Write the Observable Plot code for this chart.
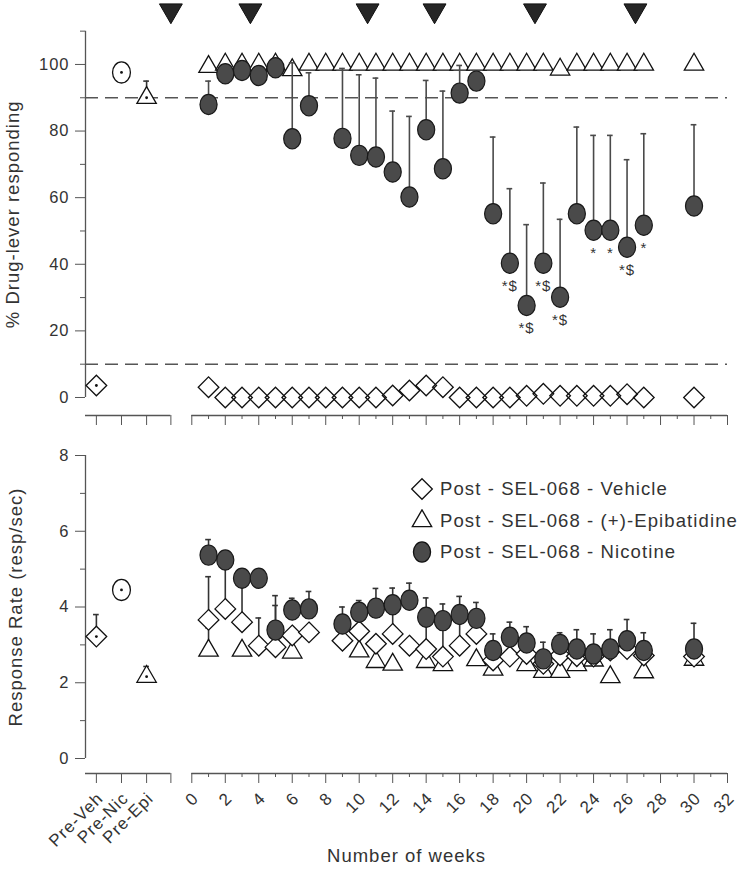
<!DOCTYPE html>
<html>
<head>
<meta charset="utf-8">
<script src="https://cdn.jsdelivr.net/npm/d3@7"></script>
<script src="https://cdn.jsdelivr.net/npm/@observablehq/plot@0.6"></script>
<style>
  html, body { margin: 0; padding: 0; background: #fff; }
  body { width: 737px; height: 869px; overflow: hidden; position: relative; font-family: "Liberation Sans", Arial, sans-serif; }
  #chart svg { display: block; }
  #chart svg text { letter-spacing: 1px; }
  .legend-row { position: absolute; display: flex; align-items: center; white-space: nowrap; font-size: 18.5px; letter-spacing: 1.1px; color: #333; height: 24px; }
  .legend-row svg { display: block; margin-right: 6px; }
</style>
</head>
<body>
<div id="chart"></div>
<div id="legend"></div>
<script>
// ---------------- DATA ----------------
// Baseline (pre-treatment) categories
const preLabels = ["Pre-Veh", "Pre-Nic", "Pre-Epi"];
const preDrug = [3.6, 97.6, 90];
const preDrugUpper = [null, null, 95];
const preRate = [3.22, 4.45, 2.16];
const preRateUpper = [3.8, null, 2.43];

// Week-by-week data, top panel (% drug-lever responding)
const weeksFull = [1,2,3,4,5,6,7,8,9,10,11,12,13,14,15,16,17,18,19,20,21,22,23,24,25,26,27,30];
const vehDrug = [3.1,0,0,0,0,0,0,0,0,0,0,0.6,2.1,3.6,3.1,0,0,0,0,0.5,1.1,0.5,0.5,0.5,0.5,1.0,0,0];
const epiDrug = [99.3,100,100,100,100,98.3,100,100,100,100,100,100,100,100,100,100,100,100,100,100,100,98.5,100,100,100,100,100,100];

const nicWeeks = [1,2,3,4,5,6,7,9,10,11,12,13,14,15,16,17,18,19,20,21,22,23,24,25,26,27,30];
const nicDrug = [88,97.2,98.2,96.7,99,77.7,87.6,77.8,72.7,72.2,67.7,60.2,80.4,68.7,91.4,95,55.2,40.3,27.6,40.3,30.1,55.2,50.2,50.2,45.1,51.7,57.5];
const nicDrugUpper = [95,null,null,null,null,100.5,97.5,98.8,96.9,95.9,86,84.4,95.2,92,99.7,null,78.2,62.7,51.9,64.4,53.5,81.2,78.7,78.7,71.4,79.2,81.9];

// Significance marks under nicotine points
const sigWeeks = [19,20,21,22,24,25,26,27];
const sigLabels = ["*$","*$","*$","*$","*","*","*$","*"];

// SEL-068 administrations (arrowheads at top)
const injectionWeeks = [-1.25, 3.5, 10.5, 14.5, 20.5, 26.5];

// Criterion lines
const criterionLevels = [90, 10];

// Bottom panel (response rate, resp/sec)
const rateWeeks = [1,2,3,4,5,6,7,9,10,11,12,13,14,15,16,17,18,19,20,21,22,23,24,25,26,27,30];
const vehRate = [3.66,3.95,3.6,2.98,2.94,3.25,3.33,3.11,3.36,3.03,3.29,2.98,2.89,2.69,2.98,3.29,2.59,2.69,2.76,2.5,2.72,2.7,2.69,2.85,2.89,2.72,2.69];
const vehRateUpper = [4.8,5.15,4.6,3.71,4.04,null,null,null,3.8,null,3.95,null,3.6,3.5,3.7,null,null,null,null,null,null,null,null,null,null,null,null];
const nicRate = [5.37,5.24,4.76,4.76,3.39,3.92,3.95,3.55,3.86,3.97,4.06,4.18,3.73,3.64,3.8,3.7,2.85,3.2,3.05,2.63,3.01,2.89,2.76,2.89,3.11,2.85,2.89];
const nicRateUpper = [5.78,null,null,null,4.3,4.23,4.41,4.0,4.17,4.49,4.5,4.63,4.24,4.08,4.28,4.12,3.29,3.6,3.48,3.07,3.32,3.4,3.29,3.4,3.67,3.32,3.57];
const epiRateWeeks = [1,3,6,10,11,12,14,15,17,18,20,21,22,23,24,25,27,30];
const epiRate = [2.85,2.85,2.8,2.83,2.55,2.48,2.55,2.47,2.6,2.35,2.47,2.29,2.29,2.47,2.59,2.15,2.28,2.61];
const epiRateUpper = [3.45,null,null,null,null,null,null,null,null,null,null,null,null,null,null,null,null,null];

// Axis ticks & labels
const weekTicks = [0,2,4,6,8,10,12,14,16,18,20,22,24,26,28,30,32];
const weekMinorTicks = [1,3,5,7,9,11,13,15,17,19,21,23,25,27,29,31];
const yTopMajor = [0,20,40,60,80,100];
const yTopMinor = [10,30,50,70,90,110];
const yBotMajor = [0,2,4,6,8];
const yBotMinor = [1,3,5,7];
const yLabelTop = "% Drug-lever responding";
const yLabelBot = "Response Rate (resp/sec)";
const xLabel = "Number of weeks";
const legendLabels = ["Post - SEL-068 - Vehicle", "Post - SEL-068 - (+)-Epibatidine", "Post - SEL-068 - Nicotine"];

// ---------------- LAYOUT (x positions of the broken axis) ----------------
const xDomain = [-6.35, 32];
const preX = [-5.7, -4.2, -2.7];
const preEndX = -1.25;
const axisSegments = [{x1: -6.35, x2: preEndX}, {x1: 0, x2: 32}];
const capHalf = 0.17;

const ink = "#111";
const axisGray = "#555";
const nicFill = "#4a4a4a";

const downTriangle = {
  draw(context, size) {
    const y = -Math.sqrt(size / (Math.sqrt(3) * 3));
    context.moveTo(0, -y * 2);
    context.lineTo(-Math.sqrt(3) * y, y);
    context.lineTo(Math.sqrt(3) * y, y);
    context.closePath();
  }
};
// slightly tall ellipse (the original markers are stretched vertically)
const ellipse = {
  draw(context, size) {
    const r = Math.sqrt(size / Math.PI);
    const rx = r * 0.93, ry = r * 1.1, k = 0.5523;
    context.moveTo(rx, 0);
    context.bezierCurveTo(rx, k * ry, k * rx, ry, 0, ry);
    context.bezierCurveTo(-k * rx, ry, -rx, k * ry, -rx, 0);
    context.bezierCurveTo(-rx, -k * ry, -k * rx, -ry, 0, -ry);
    context.bezierCurveTo(k * rx, -ry, rx, -k * ry, rx, 0);
    context.closePath();
  }
};

// rows
const rows = (ws, vs, his) => ws.map((w, i) => ({w, v: vs[i], hi: his ? his[i] : null}));
const topVeh = rows(weeksFull, vehDrug);
const topEpi = rows(weeksFull, epiDrug);
const topNic = rows(nicWeeks, nicDrug, nicDrugUpper);
const topSig = sigWeeks.map((w, i) => ({w, v: nicDrug[nicWeeks.indexOf(w)], label: sigLabels[i]}));
const preTop = preLabels.map((l, i) => ({w: preX[i], v: preDrug[i], hi: preDrugUpper[i], label: l}));
const botVeh = rows(rateWeeks, vehRate, vehRateUpper);
const botNic = rows(rateWeeks, nicRate, nicRateUpper);
const botEpi = rows(epiRateWeeks, epiRate, epiRateUpper);
const preBot = preLabels.map((l, i) => ({w: preX[i], v: preRate[i], hi: preRateUpper[i], label: l}));

const hasHi = d => d.hi != null;
function errorBars(data, color) {
  const f = data.filter(hasHi);
  return [
    Plot.ruleX(f, {x: "w", y1: "v", y2: "hi", stroke: color, strokeWidth: 1.6}),
    Plot.ruleY(f, {y: "hi", x1: d => d.w - capHalf, x2: d => d.w + capHalf, stroke: color, strokeWidth: 1.6})
  ];
}
function preMarks(data) {
  return [
    ...errorBars(data, "#333"),
    Plot.dot([data[0]], {x: "w", y: "v", symbol: "diamond2", r: 9.3, fill: "white", stroke: ink, strokeWidth: 1.3}),
    Plot.dot([data[1]], {x: "w", y: "v", symbol: ellipse, r: 9.6, fill: "white", stroke: ink, strokeWidth: 1.3}),
    Plot.dot([data[2]], {x: "w", y: "v", symbol: "triangle", r: 7.2, fill: "white", stroke: ink, strokeWidth: 1.3}),
    Plot.dot(data, {x: "w", y: "v", r: 1.4, fill: ink})
  ];
}

const baseStyle = {fontFamily: "Liberation Sans, Arial, sans-serif", fontSize: "16.5px", color: "#333", background: "white", overflow: "visible"};

// ---------------- TOP PANEL ----------------
const yTopDomain = [-5.405, 116.2];
const topPlot = Plot.plot({
  width: 737, height: 440,
  marginLeft: 85, marginRight: 10, marginTop: 10, marginBottom: 25,
  x: {domain: xDomain},
  y: {domain: yTopDomain},
  style: baseStyle,
  marks: [
    Plot.ruleY(criterionLevels, {stroke: axisGray, strokeWidth: 1.5, strokeDasharray: "13,7"}),
    Plot.ruleX([xDomain[0]], {y1: 0, y2: yTopMinor[yTopMinor.length - 1], stroke: axisGray, strokeWidth: 1.3}),
    Plot.axisY({ticks: yTopMajor, tickSize: 10, tickPadding: 6, fontSize: 16.5, stroke: axisGray, label: null}),
    Plot.axisY({ticks: yTopMinor, tickSize: 5, tickFormat: () => "", stroke: axisGray, label: null}),
    Plot.ruleY(axisSegments, {x1: "x1", x2: "x2", y: yTopDomain[0], stroke: axisGray, strokeWidth: 1.3}),
    Plot.axisX({ticks: [...preX, preEndX, ...weekTicks], tickSize: 10, tickFormat: () => "", stroke: axisGray, label: null}),
    Plot.axisX({ticks: weekMinorTicks, tickSize: 4, tickFormat: () => "", stroke: axisGray, label: null}),
    Plot.text([yLabelTop], {x: xDomain[0], y: (yTopMajor[0] + yTopMinor[yTopMinor.length - 1]) / 2, rotate: -90, dx: -72, fontSize: 18.5, fill: "#333"}),
    Plot.dot(topEpi, {x: "w", y: "v", symbol: "triangle", r: 7.2, fill: "white", stroke: ink, strokeWidth: 1.3}),
    Plot.dot(topVeh, {x: "w", y: "v", symbol: "diamond2", r: 9.3, fill: "none", stroke: ink, strokeWidth: 1.3}),
    ...errorBars(topNic, "#4a4a4a"),
    Plot.dot(topNic, {x: "w", y: "v", symbol: ellipse, r: 9.2, fill: nicFill, stroke: "#1a1a1a", strokeWidth: 1.2}),
    Plot.text(topSig, {x: "w", y: "v", text: "label", dy: 23, fontSize: 15, fill: "#333"}),
    Plot.dot(injectionWeeks, {x: d => d, frameAnchor: "top", symbol: downTriangle, r: 8.5, fill: "#262626", stroke: ink, strokeWidth: 1}),
    ...preMarks(preTop)
  ]
});

// ---------------- BOTTOM PANEL ----------------
const yBotDomain = [-0.396, 8];
const botPlot = Plot.plot({
  width: 737, height: 429,
  marginLeft: 85, marginRight: 10, marginTop: 15, marginBottom: 96,
  x: {domain: xDomain},
  y: {domain: yBotDomain},
  style: baseStyle,
  marks: [
    Plot.ruleX([xDomain[0]], {y1: 0, y2: yBotMajor[yBotMajor.length - 1], stroke: axisGray, strokeWidth: 1.3}),
    Plot.axisY({ticks: yBotMajor, tickSize: 10, tickPadding: 6, fontSize: 16.5, stroke: axisGray, label: null}),
    Plot.axisY({ticks: yBotMinor, tickSize: 5, tickFormat: () => "", stroke: axisGray, label: null}),
    Plot.ruleY(axisSegments, {x1: "x1", x2: "x2", y: yBotDomain[0], stroke: axisGray, strokeWidth: 1.3}),
    // tick marks
    Plot.axisX({ticks: [...preX, preEndX, ...weekTicks], tickSize: 10, tickFormat: () => "", stroke: axisGray, label: null}),
    Plot.axisX({ticks: weekMinorTicks, tickSize: 4, tickFormat: () => "", stroke: axisGray, label: null}),
    // rotated tick labels
    Plot.axisX({ticks: [...preX, ...weekTicks], tickSize: 10, tickPadding: 7, tickRotate: -45, fontSize: 17, dx: 4, dy: 5,
      strokeOpacity: 0,
      tickFormat: d => preX.includes(d) ? preLabels[preX.indexOf(d)] : String(d), label: null}),
    Plot.text([yLabelBot], {x: xDomain[0], y: (yBotMajor[0] + yBotMajor[yBotMajor.length - 1]) / 2, rotate: -90, dx: -69, fontSize: 18.5, fill: "#333"}),
    Plot.text([xLabel], {frameAnchor: "bottom", dy: 88, fontSize: 18.5, fill: "#333"}),
    ...errorBars(botEpi, "#333"),
    Plot.dot(botEpi, {x: "w", y: "v", symbol: "triangle", r: 7.2, fill: "white", stroke: ink, strokeWidth: 1.3}),
    ...errorBars(botVeh, "#333"),
    Plot.dot(botVeh, {x: "w", y: "v", symbol: "diamond2", r: 9.3, fill: "white", stroke: ink, strokeWidth: 1.3}),
    ...errorBars(botNic, "#333"),
    Plot.dot(botNic, {x: "w", y: "v", symbol: ellipse, r: 9.2, fill: nicFill, stroke: "#1a1a1a", strokeWidth: 1.2}),
    ...preMarks(preBot)
  ]
});

const chart = document.getElementById("chart");
chart.appendChild(topPlot);
chart.appendChild(botPlot);

// ---------------- LEGEND (overlaid in the bottom panel) ----------------
const legendSymbols = [
  {type: d3.symbolDiamond2, r: 9.3, fill: "white"},
  {type: d3.symbolTriangle, r: 7.2, fill: "white"},
  {type: ellipse, r: 9.2, fill: nicFill}
];
const legend = document.getElementById("legend");
legendLabels.forEach((label, i) => {
  const row = document.createElement("div");
  row.className = "legend-row";
  row.style.left = "410px";
  row.style.top = (477 + i * 31.5) + "px";
  const s = legendSymbols[i];
  const path = d3.symbol(s.type, Math.PI * s.r * s.r)();
  row.innerHTML = `<svg width="24" height="24" viewBox="-12 -12 24 24"><path d="${path}" fill="${s.fill}" stroke="${ink}" stroke-width="1.3"/></svg><span>${label}</span>`;
  legend.appendChild(row);
});
</script>
</body>
</html>
